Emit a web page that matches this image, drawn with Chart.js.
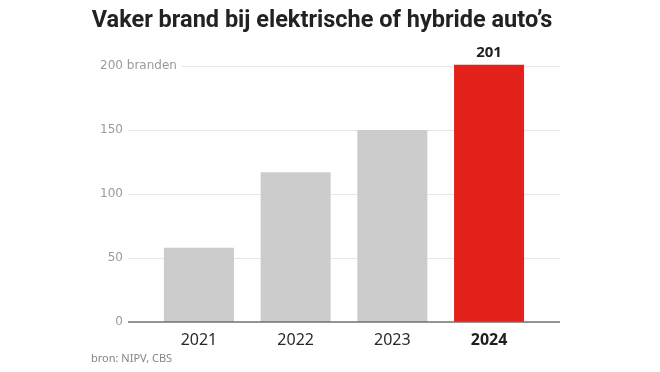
<!DOCTYPE html>
<html>
<head>
<meta charset="utf-8">
<script src="https://cdn.jsdelivr.net/npm/chart.js@4"></script>
<style>
  html, body { margin: 0; padding: 0; background: #fff; }
  #wrap { width: 660px; height: 372px; position: relative; }
</style>
</head>
<body>
<div id="wrap"><canvas id="chart" width="660" height="372"></canvas></div>
<script>
const years = ["2021", "2022", "2023", "2024"];
const fires = [58, 117, 150, 201];
const barColors = ["#cccccc", "#cccccc", "#cccccc", "#e3201a"];
const yTicks = [0, 50, 100, 150, 200];
const unitLabel = "branden";
const title = "Vaker brand bij elektrische of hybride auto\u2019s";
const source = "bron: NIPV, CBS";

// everything around the bars is drawn here, positioned from the chart's scales
const decor = {
  id: "decor",
  beforeDatasetsDraw(chart) {
    const ctx = chart.ctx;
    const y = chart.scales.y;
    ctx.save();
    ctx.font = "12px 'DejaVu Sans'";
    ctx.textBaseline = "middle";
    for (const t of yTicks) {
      const py = y.getPixelForValue(t);
      ctx.fillStyle = "#9a9a9a";
      ctx.textAlign = "right";
      ctx.fillText(String(t), 123, py);
      let startX = 128;
      if (t === yTicks[yTicks.length - 1]) {
        ctx.textAlign = "left";
        const extra = " " + unitLabel;
        ctx.fillText(extra, 123, py);
        startX = 123 + ctx.measureText(extra).width + 5;
      }
      if (t !== 0) {
        ctx.strokeStyle = "#e6e6e6";
        ctx.lineWidth = 1;
        ctx.beginPath();
        ctx.moveTo(startX, Math.round(py) + 0.5);
        ctx.lineTo(560, Math.round(py) + 0.5);
        ctx.stroke();
      }
    }
    ctx.restore();
  },
  afterDatasetsDraw(chart) {
    const ctx = chart.ctx;
    const x = chart.scales.x;
    const y = chart.scales.y;
    ctx.save();
    // baseline
    const y0 = y.getPixelForValue(0);
    ctx.strokeStyle = "#707070";
    ctx.lineWidth = 1.5;
    ctx.beginPath();
    ctx.moveTo(128, y0);
    ctx.lineTo(560, y0);
    ctx.stroke();

    // year labels
    ctx.textAlign = "center";
    ctx.textBaseline = "middle";
    years.forEach((yr, i) => {
      const last = i === years.length - 1;
      ctx.font = (last ? "bold " : "") + "16px 'Noto Sans'";
      ctx.fillStyle = last ? "#1e1e1e" : "#2a2a2a";
      ctx.fillText(yr, x.getPixelForValue(i), 340);
    });

    // value on the last bar
    const li = fires.length - 1;
    ctx.font = "bold 15px 'Noto Sans'";
    ctx.fillStyle = "#1e1e1e";
    ctx.textBaseline = "alphabetic";
    ctx.fillText(String(fires[li]), x.getPixelForValue(li), y.getPixelForValue(fires[li]) - 8);

    // title
    ctx.font = "bold 23.5px Roboto";
    ctx.fillStyle = "#222222";
    ctx.fillText(title, 322, 27);

    // source
    ctx.font = "11px 'Noto Sans'";
    ctx.fillStyle = "#858585";
    ctx.textAlign = "left";
    ctx.textBaseline = "middle";
    ctx.fillText(source, 91, 359);
    ctx.restore();
  }
};

new Chart(document.getElementById("chart"), {
  type: "bar",
  data: {
    labels: years,
    datasets: [{
      data: fires,
      backgroundColor: barColors,
      borderWidth: 0,
      categoryPercentage: 1,
      barPercentage: 0.724,
      clip: false
    }]
  },
  options: {
    responsive: false,
    animation: false,
    events: [],
    layout: { padding: { left: 150.6, right: 122.6, top: 66, bottom: 50 } },
    plugins: { legend: { display: false }, tooltip: { enabled: false }, title: { display: false } },
    scales: {
      x: { display: false },
      y: { display: false, min: 0, max: 200 }
    }
  },
  plugins: [decor]
});
</script>
</body>
</html>
